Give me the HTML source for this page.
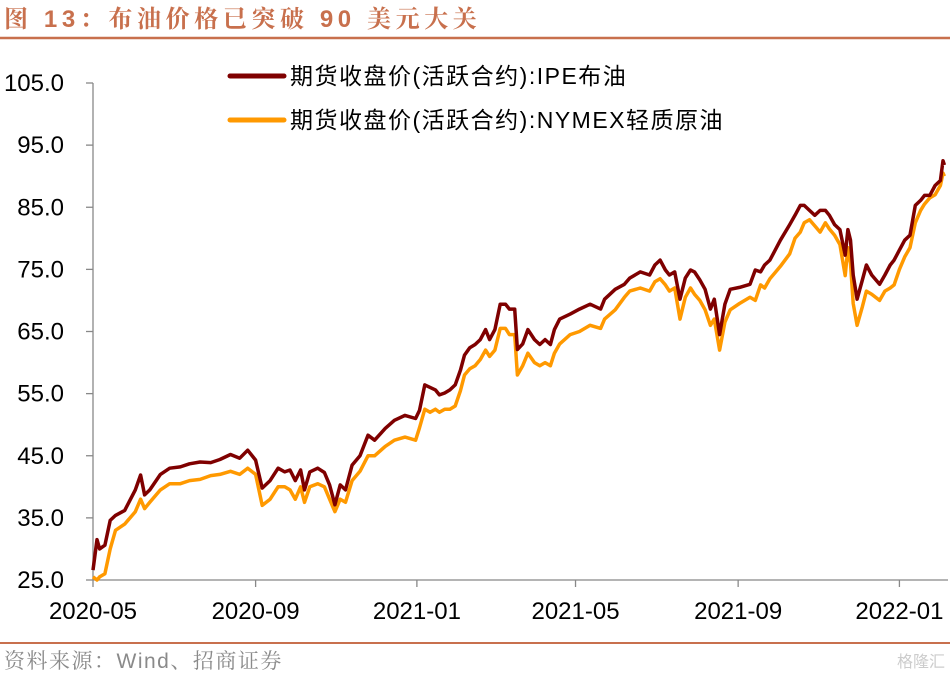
<!DOCTYPE html>
<html><head><meta charset="utf-8"><style>
body{margin:0;background:#fff;width:950px;height:676px;overflow:hidden;font-family:"Liberation Sans","Noto Sans CJK SC",sans-serif}
</style></head><body>
<svg width="950" height="676" xmlns="http://www.w3.org/2000/svg">
<text x="4" y="27" font-size="24" font-weight="bold" fill="#C8704D" letter-spacing="4.6" font-family="Liberation Sans,Noto Serif CJK SC,serif">图 13：布油价格已突破 90 美元大关</text>
<line x1="0" y1="38" x2="950" y2="38" stroke="#C8704D" stroke-width="2.5"/>
<line x1="0" y1="643" x2="950" y2="643" stroke="#C8704D" stroke-width="2"/>
<text x="4" y="668" font-size="21" fill="#8a8a8a" letter-spacing="1.5" font-family="Liberation Sans,Noto Serif CJK SC,serif">资料来源：Wind、招商证券</text>
<text x="945" y="667" font-size="16" fill="#ccc" text-anchor="end">格隆汇</text>
<g id="axes"></g>
<g id="series"></g>
<g>
<line x1="230" y1="76" x2="284" y2="76" stroke="#7F0000" stroke-width="5" stroke-linecap="round"/>
<text x="290" y="84" font-size="23" letter-spacing="1.5" fill="#000">期货收盘价(活跃合约):IPE布油</text>
<line x1="230" y1="120" x2="284" y2="120" stroke="#FF9900" stroke-width="5" stroke-linecap="round"/>
<text x="290" y="128" font-size="23" letter-spacing="1.5" fill="#000">期货收盘价(活跃合约):NYMEX轻质原油</text>
</g>
</svg>
<script>
const days=[0,3,5,9,13,17,24,32,36,39,43,51,58,66,73,81,89,96,104,111,117,123,128,134,140,145,149,153,157,160,164,170,175,179,183,187,191,196,202,208,213,221,228,236,244,247,251,255,259,262,266,270,274,278,281,285,289,293,297,300,304,308,312,315,319,321,325,329,334,338,342,346,349,353,361,368,376,384,387,395,402,406,414,421,425,429,433,436,440,444,448,452,455,459,463,467,470,474,478,482,489,497,501,505,508,512,516,520,527,531,535,538,542,546,550,554,557,561,565,569,571,573,575,578,582,585,589,595,599,603,606,610,614,618,622,626,629,633,637,641,643,644];
const brent=[26.6,31.5,30,30.6,34.6,35.4,36.2,39.5,41.9,38.7,39.5,42,43,43.2,43.7,44,43.9,44.4,45.2,44.6,45.9,44.3,39.8,41,43,42.4,42.7,41,42.7,39.5,42.4,43,42.3,40.3,37.1,40.3,39.5,43.5,45,48.3,47.5,49.4,50.7,51.5,51,52.3,56.4,56,55.6,54.8,55.1,55.6,56.4,58.8,61.2,62.4,62.9,63.7,65.3,63.7,65.3,69.4,69.4,68.6,68.6,62.1,63,65.3,63.7,62.9,63.7,62.9,65.3,67,67.8,68.6,69.4,68.6,70.2,71.8,72.6,73.6,74.6,74.1,75.7,76.5,74.9,74.1,74.6,70.2,73.6,74.9,74.6,73.3,71.8,68.6,70.2,64.5,69.4,71.8,72.1,72.6,74.9,74.6,75.7,76.5,78.1,79.7,82.2,83.7,85.3,85.3,84.5,83.7,84.5,84.5,83.7,82.2,81.4,77.3,81.4,79.7,74.1,70.2,73.3,75.7,74.1,72.6,74.1,75.7,76.5,78.1,79.7,80.5,85.3,86.1,86.9,86.9,88.5,89.3,92.5,91.8];
const wti=[25.5,25,25.5,26,30,33,34,36,38,36.5,37.5,39.5,40.5,40.5,41,41.2,41.8,42,42.5,42,43,42,37,38,40,40,39.5,38,40,37.5,40,40.5,40,38,36,38,37.5,41,42.5,45,45,46.5,47.5,48,47.5,49.5,52.5,52,52.5,52,52.5,52.5,53,55.5,58,59,59.5,60.5,62,61,62,65.5,65.5,64.5,64.5,58,59.5,61.5,60,59.5,60,59.5,61.5,63,64.5,65,66,65.5,67,68.5,70.5,71.5,72,71.5,73,73.5,72.5,71.5,72,67,70.5,72,71,70,68.5,66,67,62,66.5,68.5,69.5,70.5,70,72.5,72,73.5,74.5,75.5,77.5,80,81,82.5,83,82,81,82.5,81.5,80.5,79,74,78.5,76,69.5,66,69,71.5,71,70,71.5,72,72.5,75,77,78.5,82.5,84.5,85.5,86.5,87,88.5,90.5,90];
const yTicks=[25,35,45,55,65,75,85,95,105];
const xTickDays=[0,123,245,365,488,610];
const xTickLabels=["2020-05","2020-09","2021-01","2021-05","2021-09","2022-01"];
const NS="http://www.w3.org/2000/svg";
const X=d=>93+d*1.322;
const Y=v=>580-(v-25)*(497/80);
const axes=document.getElementById('axes'),ser=document.getElementById('series');
function mk(tag,attrs,parent,txt){const e=document.createElementNS(NS,tag);for(const k in attrs)e.setAttribute(k,attrs[k]);if(txt!==undefined)e.textContent=txt;parent.appendChild(e);return e;}
const ya=mk('line',{x1:93,y1:Y(105),x2:93,y2:580,stroke:'#888','stroke-width':1.3},axes);


const xa=mk('line',{x1:93,y1:580,x2:948,y2:580,stroke:'#888','stroke-width':1.3},axes);


yTicks.forEach(v=>{
  const t=mk('line',{x1:86,y1:Y(v),x2:93,y2:Y(v),stroke:'#888','stroke-width':1.3},axes);
  
  
  const l=mk('text',{x:64,y:Y(v)+8,'font-size':24,'text-anchor':'end'},axes,v.toFixed(1));
  
  
});
xTickDays.forEach((d,i)=>{
  const t=mk('line',{x1:X(d),y1:580,x2:X(d),y2:587,stroke:'#888','stroke-width':1.3},axes);
  
  
  const l=mk('text',{x:X(d),y:619,'font-size':24,'text-anchor':'middle'},axes,xTickLabels[i]);
  
  
});
function line(vals,color,name){
  const p=mk('polyline',{points:vals.map((v,i)=>X(days[i]).toFixed(1)+','+Y(v).toFixed(1)).join(' '),fill:'none',stroke:color,'stroke-width':3.5,'stroke-linejoin':'round'},ser);
  
  
}
line(wti,'#FF9900','nymex-line');
line(brent,'#7F0000','ipe-brent-line');
</script>
</body></html>
